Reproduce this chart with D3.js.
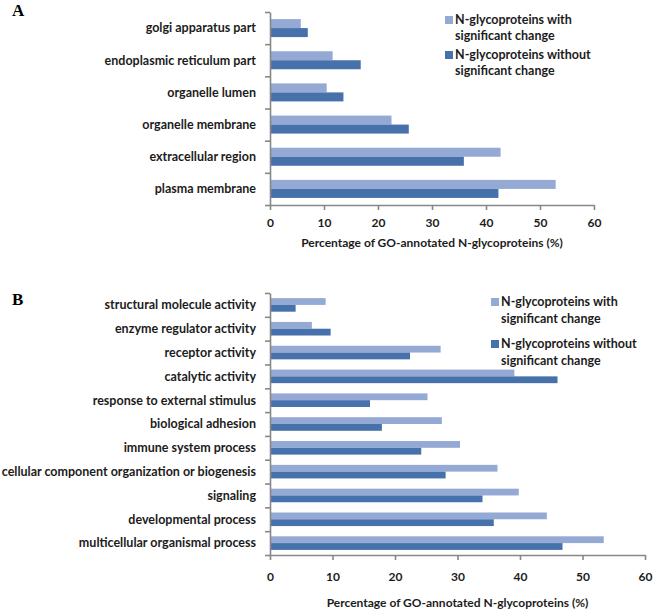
<!DOCTYPE html>
<html><head><meta charset="utf-8">
<script src="https://cdn.jsdelivr.net/npm/d3@7"></script>
<style>
body{margin:0;background:#fff;}
text{font-family:Lato,"Open Sans",sans-serif;}
</style></head>
<body><svg id="chart" width="654" height="611"></svg>
<script>
const seriesNames = ["N-glycoproteins with significant change", "N-glycoproteins without significant change"];
const xTicks = [0, 10, 20, 30, 40, 50, 60];
const xTitle = "Percentage of GO-annotated N-glycoproteins (%)";

const catsA = ["golgi apparatus part", "endoplasmic reticulum part", "organelle lumen", "organelle membrane", "extracellular region", "plasma membrane"];
const withA = [5.7, 11.6, 10.5, 22.5, 42.7, 52.9];
const withoutA = [7.0, 16.8, 13.6, 25.7, 35.9, 42.3];

const catsB = ["structural molecule activity", "enzyme regulator activity", "receptor activity", "catalytic activity", "response to external stimulus", "biological adhesion", "immune system process", "cellular component organization  or biogenesis", "signaling", "developmental process", "multicellular organismal process"];
const withB = [8.9, 6.7, 27.3, 39.1, 25.2, 27.5, 30.4, 36.4, 39.8, 44.3, 53.4];
const withoutB = [4.1, 9.7, 22.4, 46.0, 16.0, 17.9, 24.2, 28.1, 34.0, 35.8, 46.8];

const colors = ["#94aad5", "#4671ab"];
const axisColor = "#878787";
const textColor = "#1c1c1c";

const svg = d3.select("#chart");

function panel(cfg) {
  const g = svg.append("g");
  const x = d3.scaleLinear().domain([0, 60]).range([cfg.x0, cfg.x1]);
  const y = d3.scaleBand().domain(cfg.cats).range([cfg.y0, cfg.y1]).paddingInner(cfg.pad).paddingOuter(cfg.pad / 2);
  const sub = d3.scaleBand().domain([0, 1]).range([0, y.bandwidth()]);
  const n = cfg.cats.length;
  const yt = d3.scaleLinear().domain([0, n]).range([cfg.y0, cfg.y1]);

  [cfg.s1, cfg.s2].forEach((vals, si) => {
    g.append("g").selectAll("rect").data(cfg.cats).join("rect")
      .attr("x", x(0))
      .attr("y", (d) => y(d) + sub(si))
      .attr("width", (d, i) => x(vals[i]) - x(0))
      .attr("height", sub.bandwidth())
      .attr("fill", colors[si]);
  });

  const ya = g.append("g").attr("transform", `translate(${cfg.x0},0)`)
    .call(d3.axisLeft(yt).tickValues(d3.range(0, n + 1)).tickSize(5).tickSizeOuter(0).tickFormat(""));
  ya.selectAll("path,line").attr("stroke", axisColor).attr("stroke-width", 1.6);

  g.append("g").selectAll("text").data(cfg.cats).join("text")
    .attr("x", cfg.x0 - 14)
    .attr("y", (d) => y(d) + y.bandwidth() / 2)
    .attr("dy", "0.35em")
    .attr("text-anchor", "end")
    .attr("font-size", cfg.fs)
    .attr("font-weight", 700)
    .attr("fill", textColor)
    .text((d) => d);

  const xa = g.append("g").attr("transform", `translate(0,${cfg.y1})`)
    .call(d3.axisBottom(x).tickValues(xTicks).tickSize(5).tickSizeOuter(0).tickPadding(cfg.tp));
  xa.selectAll("path,line").attr("stroke", axisColor).attr("stroke-width", 1.6);
  xa.selectAll("text").attr("font-size", 12).attr("font-weight", 700).attr("fill", textColor)
    .attr("font-family", "Lato, sans-serif");

  g.append("text").attr("x", (cfg.x0 + cfg.x1) / 2).attr("y", cfg.titleY)
    .attr("dy", "0.35em").attr("text-anchor", "middle").attr("font-size", 12)
    .attr("font-weight", 700).attr("fill", textColor).text(xTitle);

  const lg = g.append("g");
  seriesNames.forEach((name, si) => {
    const ly = cfg.legY + si * cfg.legGap;
    lg.append("rect").attr("x", cfg.legX).attr("y", ly - 4).attr("width", 8).attr("height", 8).attr("fill", colors[si]);
    const words = name.split(" ");
    const line1 = words.slice(0, 2).join(" ");
    const line2 = words.slice(2).join(" ");
    [line1, line2].forEach((t, li) => {
      lg.append("text").attr("x", cfg.legX + 10).attr("y", ly + li * cfg.legLine)
        .attr("dy", "0.35em").attr("font-size", cfg.fs).attr("font-weight", 700)
        .attr("fill", textColor).text(t);
    });
  });

  svg.append("text").attr("x", 12).attr("y", cfg.letterY)
    .style("font-family", "'Liberation Serif', 'Times New Roman', serif")
    .attr("font-size", 17).attr("font-weight", 700).attr("fill", "#000").text(cfg.letter);
}

panel({cats: catsA, s1: withA, s2: withoutA, x0: 270, x1: 594, y0: 12, y1: 205, pad: 0.44, fs: 12.5, tp: 8,
  titleY: 243, legX: 445, legY: 20, legGap: 35, legLine: 16, letter: "A", letterY: 16});
panel({cats: catsB, s1: withB, s2: withoutB, x0: 270, x1: 645, y0: 293, y1: 555, pad: 0.43, fs: 12.5, tp: 12,
  titleY: 603, legX: 491, legY: 302, legGap: 42, legLine: 17, letter: "B", letterY: 305});
</script></body></html>
